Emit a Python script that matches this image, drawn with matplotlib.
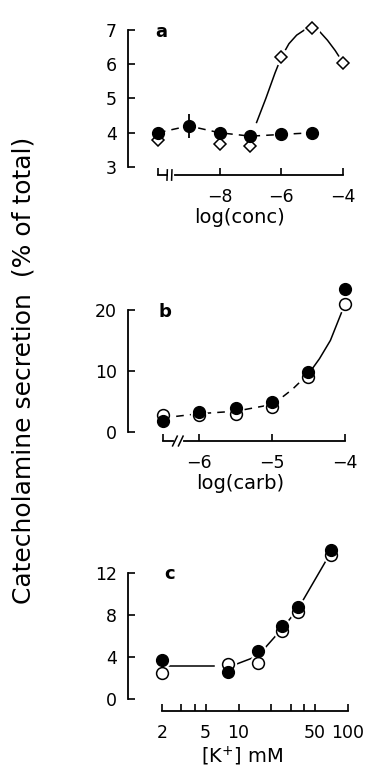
import numpy as np
import matplotlib
matplotlib.use('Agg')
import matplotlib.pyplot as plt
from matplotlib.ticker import FixedLocator, NullFormatter, FixedFormatter

# ---- data ----
# panel a : log(conc), control plotted at -10
a_fill_x = [-10, -9, -8, -7, -6, -5]
a_fill_y = [4.0, 4.2, 4.0, 3.9, 3.95, 4.0]
a_fill_err = [0, 0.35, 0, 0, 0, 0]
a_dia_x = [-10, -8, -7, -6, -5, -4]
a_dia_y = [3.8, 3.67, 3.62, 6.2, 7.05, 6.05]
a_dia_err = [0, 0, 0, 0, 0.15, 0]
a_fit_x = [-6.8, -6.5, -6.2, -6.0, -5.75, -5.5, -5.25, -5.0, -4.75, -4.5, -4.25, -4.0]
a_fit_y = [4.3, 5.0, 5.75, 6.2, 6.6, 6.85, 7.0, 7.05, 6.95, 6.7, 6.4, 6.05]
a_xticks = [-10, -8, -6, -4]
a_xlabels = ['', '\u22128', '\u22126', '\u22124']
a_yticks = [3, 4, 5, 6, 7]

# panel b : log(carb), control plotted at -6.5
b_x = [-6.5, -6, -5.5, -5, -4.5, -4]
b_fill_y = [1.8, 3.3, 3.9, 4.9, 9.8, 23.5]
b_open_y = [2.8, 2.8, 3.0, 4.1, 9.0, 21.0]
b_fit_x = [-6.5, -6.0, -5.5, -5.0, -4.86, -4.72, -4.59, -4.5, -4.35, -4.2, -4.0]
b_fit_y = [2.3, 3.0, 3.4, 4.5, 5.7, 7.0, 8.5, 9.5, 12.0, 15.0, 21.0]
b_xticks = [-6.5, -6, -5, -4]
b_xlabels = ['', '\u22126', '\u22125', '\u22124']
b_yticks = [0, 10, 20]

# panel c : [K+] mM
c_x = [2, 8, 15, 25, 35, 70]
c_fill_y = [3.7, 2.6, 4.6, 7.0, 8.8, 14.2]
c_open_y = [2.5, 3.3, 3.4, 6.5, 8.3, 13.7]
c_fit_x = [2.2, 6, 8, 10, 15, 25, 35, 70]
c_fit_y = [3.1, 3.1, 3.0, 3.4, 4.1, 6.7, 8.6, 14.0]
c_major = [2, 5, 10, 50, 100]
c_major_labels = ['2', '5', '10', '50', '100']
c_minor = [3, 4, 20, 30, 40]
c_yticks = [0, 4, 8, 12]

W, H = 370, 773
fig = plt.figure(figsize=(W / 100, H / 100), dpi=100)
plt.rcParams['font.family'] = 'DejaVu Sans'

TICK_FS = 12.5
LABEL_FS = 14

def make_axes(left, right, top, bottom):  # pixel box -> axes
    return fig.add_axes([left / W, 1 - bottom / H, (right - left) / W, (bottom - top) / H])

def style(ax, ybounds, xbounds):
    for s in ['top', 'right']:
        ax.spines[s].set_visible(False)
    ax.spines['left'].set_bounds(*ybounds)
    ax.spines['bottom'].set_bounds(*xbounds)
    for s in ['left', 'bottom']:
        ax.spines[s].set_linewidth(1.3)
    ax.tick_params(direction='in', length=5, width=1.2, labelsize=TICK_FS)
    ax.tick_params(axis='x', pad=9)
    ax.tick_params(axis='y', pad=8)
    ax.patch.set_visible(False)

def axis_break(ax, x0, x1, s1, s2, y0, dy):  # stub + two slashes on x axis
    ax.plot([x0, x1], [y0, y0], color='k', lw=1.3, clip_on=False)
    for s in (s1, s2):
        ax.plot([s - 0.04 * dy, s + 0.04 * dy], [y0 - dy, y0 + dy], color='k', lw=1.1, clip_on=False)

def halo(ax, x, y, ms):
    ax.plot(x, y, 'o', ms=ms + 4, mfc='white', mec='none', zorder=2, clip_on=False)

# ---------- panel a ----------
ax = make_axes(128, 350, 20, 175)
ax.set_xlim(-10.97, -3.77)
ax.set_ylim(2.766, 7.292)
style(ax, (3, 7), (-9.45, -4))
axis_break(ax, -10, -9.72, -9.7, -9.55, 2.766, 0.15)
ax.plot(a_fit_x, a_fit_y, '-', color='k', lw=1.1, zorder=1)
ax.plot(a_fill_x, a_fill_y, '--', color='k', lw=1.1, dashes=(5, 4), zorder=1)
halo(ax, a_dia_x[3:], a_dia_y[3:], 8)
ax.errorbar(a_dia_x, a_dia_y, yerr=a_dia_err, fmt='D', ms=6, mfc='white', mec='k',
            mew=1.1, ecolor='k', elinewidth=1.1, capsize=0, zorder=3, clip_on=False)
ax.errorbar(a_fill_x, a_fill_y, yerr=a_fill_err, fmt='o', ms=8.5, mfc='k', mec='k',
            ecolor='k', elinewidth=1.3, capsize=0, zorder=4, clip_on=False)
ax.set_xticks(a_xticks)
ax.set_xticklabels(a_xlabels)
ax.set_yticks(a_yticks)
ax.text(-10.1, 6.8, 'a', fontsize=13, fontweight='bold')
ax.set_xlabel('log(conc)', fontsize=LABEL_FS, labelpad=2)

# ---------- panel b ----------
ax = make_axes(128, 352, 280, 441)
ax.set_xlim(-6.973, -3.904)
ax.set_ylim(-1.475, 24.9)
style(ax, (0, 20), (-6.2, -4))
axis_break(ax, -6.5, -6.36, -6.33, -6.25, -1.475, 0.8)
ax.plot(b_fit_x[:8], b_fit_y[:8], '-', color='k', lw=1.1, dashes=(5, 4), zorder=1)
ax.plot(b_fit_x[7:], b_fit_y[7:], '-', color='k', lw=1.1, zorder=1)
halo(ax, b_x, b_open_y, 8.5)
ax.plot(b_x, b_open_y, 'o', ms=8.5, mfc='white', mec='k', mew=1.1, zorder=3, clip_on=False)
ax.plot(b_x, b_fill_y, 'o', ms=8.5, mfc='k', mec='k', zorder=4, clip_on=False)
ax.set_xticks(b_xticks)
ax.set_xticklabels(b_xlabels)
ax.set_yticks(b_yticks)
ax.text(-6.55, 18.8, 'b', fontsize=13, fontweight='bold')
ax.set_xlabel('log(carb)', fontsize=LABEL_FS, labelpad=2)

# ---------- panel c ----------
ax = make_axes(128, 356, 545, 711)
ax.set_xscale('log')
ax.set_xlim(0.978, 118.3)
ax.set_ylim(-1.143, 14.67)
style(ax, (0, 12), (2, 100))
ax.plot(c_fit_x[:2], c_fit_y[:2], '-', color='k', lw=1.1, zorder=1)
ax.plot(c_fit_x[2:], c_fit_y[2:], '-', color='k', lw=1.1, zorder=1)
halo(ax, c_x, c_open_y, 8.5)
halo(ax, c_x, c_fill_y, 8.5)
ax.plot(c_x, c_open_y, 'o', ms=8.5, mfc='white', mec='k', mew=1.1, zorder=3, clip_on=False)
ax.plot(c_x, c_fill_y, 'o', ms=8.5, mfc='k', mec='k', zorder=4, clip_on=False)
ax.xaxis.set_major_locator(FixedLocator(c_major))
ax.xaxis.set_major_formatter(FixedFormatter(c_major_labels))
ax.xaxis.set_minor_locator(FixedLocator(c_minor))
ax.xaxis.set_minor_formatter(NullFormatter())
ax.tick_params(axis='x', which='minor', direction='in', length=5, width=1.2)
ax.set_yticks(c_yticks)
ax.text(2.1, 11.4, 'c', fontsize=13, fontweight='bold')
ax.set_xlabel('[K$^{+}$] mM', fontsize=LABEL_FS, labelpad=2)

# common y label
fig.text(24 / W, 1 - 370 / H, 'Catecholamine secretion  (% of total)',
         rotation=90, ha='center', va='center', fontsize=18)

fig.savefig('out.png', dpi=100)
